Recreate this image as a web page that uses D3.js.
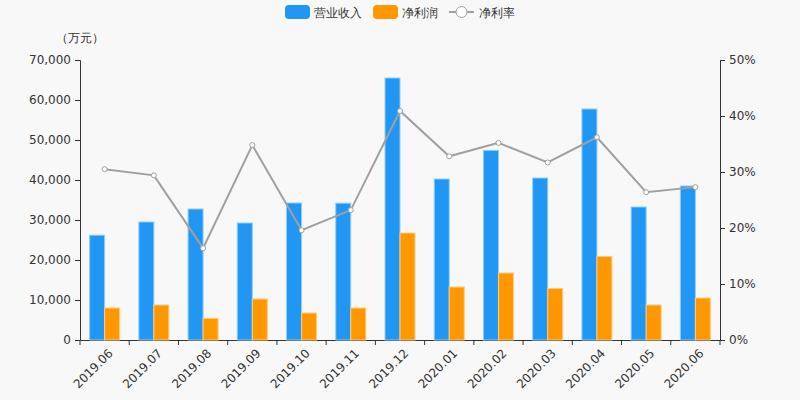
<!DOCTYPE html>
<html><head><meta charset="utf-8">
<script src="https://cdn.jsdelivr.net/npm/d3@7/dist/d3.min.js"></script>
<style>body{margin:0;background:#f8f8f8;}svg{display:block;}svg text{font-family:"DejaVu Sans",sans-serif;}</style>
</head><body><svg id="c" width="800" height="400"></svg>
<script>
const categories = ["2019.06","2019.07","2019.08","2019.09","2019.10","2019.11","2019.12","2020.01","2020.02","2020.03","2020.04","2020.05","2020.06"];
const revenue = [26200,29500,32750,29250,34250,34200,65500,40250,47400,40500,57750,33250,38500];
const netProfit = [8000,8750,5400,10250,6750,8000,26750,13250,16750,12900,20900,8750,10500];
const netMargin = [30.5,29.4,16.4,34.8,19.6,23.2,40.9,32.8,35.2,31.7,36.2,26.4,27.3];
const leftTicks = [0,10000,20000,30000,40000,50000,60000,70000];
const rightTicks = [0,10,20,30,40,50];
const seriesNames = ["营业收入","净利润","净利率"];
const colors = {rev:"#2196f3", np:"#ff9800", line:"#a0a0a0"};

const svg = d3.select("#c");
const m = {l:80, r:720, t:60, b:340};
const x = d3.scaleBand().domain(categories).range([m.l, m.r]);
const yL = d3.scaleLinear().domain([0,70000]).range([m.b, m.t]);
const yR = d3.scaleLinear().domain([0,50]).range([m.b, m.t]);
const bw = 15;

// axes
const gL = svg.append("g").attr("transform",`translate(${m.l},0)`)
  .call(d3.axisLeft(yL).tickValues(leftTicks).tickSize(5).tickPadding(4).tickFormat(d3.format(",")));
const gR = svg.append("g").attr("transform",`translate(${m.r},0)`)
  .call(d3.axisRight(yR).tickValues(rightTicks).tickSize(5).tickPadding(4).tickFormat(d=>d+"%"));
const gB = svg.append("g").attr("transform",`translate(0,${m.b})`)
  .call(d3.axisBottom(x).tickSize(0).tickFormat(""));
gB.selectAll(".bt").data(d3.range(categories.length+1)).enter().append("line")
  .attr("x1",i=>m.l+i*x.step()).attr("x2",i=>m.l+i*x.step()).attr("y1",0).attr("y2",5).attr("stroke","#333");
gB.selectAll(".lab").data(categories).enter().append("text")
  .attr("transform",d=>`translate(${x(d)+x.bandwidth()/2+3},${8}) rotate(-45)`)
  .attr("text-anchor","end").attr("dy","0.71em").attr("fill","#333").attr("font-size",12).text(d=>d);
[gL,gR,gB].forEach(g=>{g.attr("font-family",null).attr("font-size",12);g.selectAll(".domain").attr("stroke","#333");g.selectAll(".tick line").attr("stroke","#333");g.selectAll(".tick text").attr("fill","#333").attr("font-size",12);});

// bars
svg.append("g").selectAll("rect").data(revenue).enter().append("rect")
  .attr("x",(d,i)=>x(categories[i])+x.bandwidth()/2-bw).attr("width",bw)
  .attr("y",d=>yL(d)).attr("height",d=>m.b-yL(d))
  .attr("fill",colors.rev).attr("stroke","#90cbf9").attr("stroke-width",1);
svg.append("g").selectAll("rect").data(netProfit).enter().append("rect")
  .attr("x",(d,i)=>x(categories[i])+x.bandwidth()/2).attr("width",bw)
  .attr("y",d=>yL(d)).attr("height",d=>m.b-yL(d))
  .attr("fill",colors.np).attr("stroke","#ffcc80").attr("stroke-width",1);

// line
const line = d3.line().x((d,i)=>x(categories[i])+x.bandwidth()/2).y(d=>yR(d));
svg.append("path").datum(netMargin).attr("d",line).attr("fill","none").attr("stroke",colors.line).attr("stroke-width",2);
svg.append("g").selectAll("circle").data(netMargin).enter().append("circle")
  .attr("cx",(d,i)=>x(categories[i])+x.bandwidth()/2).attr("cy",d=>yR(d)).attr("r",2.5)
  .attr("fill","#fff").attr("stroke",colors.line).attr("stroke-width",1);

// unit label
svg.append("text").attr("x",80).attr("y",42).attr("text-anchor","middle").attr("fill","#333").attr("font-size",12).text("（万元）");

// legend
const lg = svg.append("g").attr("font-size",12).attr("fill","#333");
lg.append("rect").attr("x",285).attr("y",5).attr("width",25).attr("height",14).attr("rx",4).attr("fill",colors.rev);
lg.append("text").attr("x",314).attr("y",16.5).attr("fill","#333").text(seriesNames[0]);
lg.append("rect").attr("x",373).attr("y",5).attr("width",25).attr("height",14).attr("rx",4).attr("fill",colors.np);
lg.append("text").attr("x",402).attr("y",16.5).attr("fill","#333").text(seriesNames[1]);
lg.append("line").attr("x1",449).attr("x2",474).attr("y1",12).attr("y2",12).attr("stroke",colors.line).attr("stroke-width",2);
lg.append("circle").attr("cx",461.5).attr("cy",12).attr("r",5.5).attr("fill","#fff").attr("stroke",colors.line).attr("stroke-width",1);
lg.append("text").attr("x",479).attr("y",16.5).attr("fill","#333").text(seriesNames[2]);
</script></body></html>
